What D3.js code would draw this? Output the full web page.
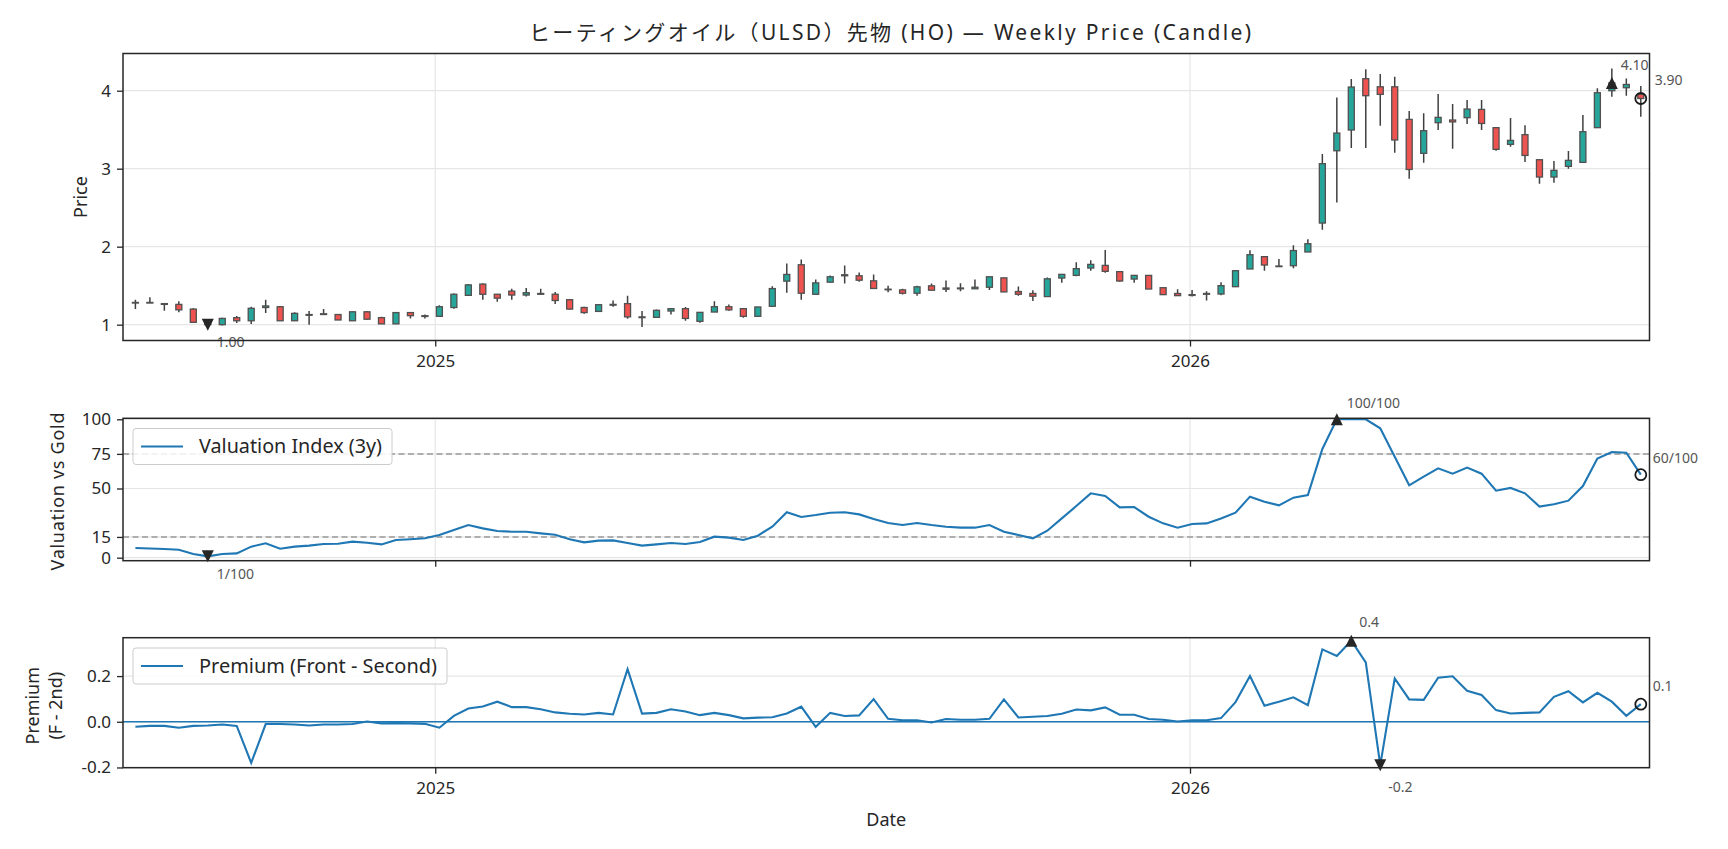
<!DOCTYPE html>
<html>
<head>
<meta charset="utf-8">
<script src="https://cdn.jsdelivr.net/npm/d3@7"></script>
<style>
  body { margin: 0; background: #fff; }
  text { font-family: "Noto Sans", "Noto Sans CJK JP", sans-serif; }
</style>
</head>
<body>
<div id="chart"></div>
<script>
// weekly dates (Fridays)
const dates = [
  "2024-08-09","2024-08-16","2024-08-23","2024-08-30","2024-09-06","2024-09-13","2024-09-20","2024-09-27",
  "2024-10-04","2024-10-11","2024-10-18","2024-10-25","2024-11-01","2024-11-08","2024-11-15","2024-11-22",
  "2024-11-29","2024-12-06","2024-12-13","2024-12-20","2024-12-27",
  "2025-01-03","2025-01-10","2025-01-17","2025-01-24","2025-01-31","2025-02-07","2025-02-14","2025-02-21",
  "2025-02-28","2025-03-07","2025-03-14","2025-03-21","2025-03-28","2025-04-04","2025-04-11","2025-04-18",
  "2025-04-25","2025-05-02","2025-05-09","2025-05-16","2025-05-23","2025-05-30","2025-06-06","2025-06-13",
  "2025-06-20","2025-06-27","2025-07-04","2025-07-11","2025-07-18","2025-07-25","2025-08-01","2025-08-08",
  "2025-08-15","2025-08-22","2025-08-29","2025-09-05","2025-09-12","2025-09-19","2025-09-26","2025-10-03",
  "2025-10-10","2025-10-17","2025-10-24","2025-10-31","2025-11-07","2025-11-14","2025-11-21","2025-11-28",
  "2025-12-05","2025-12-12","2025-12-19","2025-12-26",
  "2026-01-02","2026-01-09","2026-01-16","2026-01-23","2026-01-30","2026-02-06","2026-02-13","2026-02-20",
  "2026-02-27","2026-03-06","2026-03-13","2026-03-20","2026-03-27","2026-04-03","2026-04-10","2026-04-17",
  "2026-04-24","2026-05-01","2026-05-08","2026-05-15","2026-05-22","2026-05-29","2026-06-05","2026-06-12",
  "2026-06-19","2026-06-26","2026-07-03","2026-07-10","2026-07-17","2026-07-24","2026-07-31","2026-08-07"
];

const open = [
  1.28,1.28,1.27,1.26,1.20,1.03,1.00,1.09,1.05,1.22,1.23,1.05,1.12,1.13,1.13,1.05,1.165,1.09,1.01,1.155,1.115,
  1.107,1.22,1.376,1.52,1.39,1.43,1.38,1.39,1.39,1.32,1.22,1.17,1.25,1.27,1.10,1.094,1.175,1.205,1.043,1.162,
  1.23,1.205,1.107,1.236,1.558,1.768,1.39,1.545,1.627,1.627,1.562,1.455,1.446,1.403,1.498,1.455,1.46,1.46,
  1.48,1.60,1.425,1.40,1.36,1.598,1.632,1.726,1.76,1.68,1.585,1.632,1.474,1.40,
  1.385,1.39,1.393,1.487,1.714,1.872,1.752,1.756,1.932,2.303,3.23,3.496,4.154,4.05,4.05,3.632,3.197,3.59,
  3.624,3.654,3.76,3.526,3.312,3.436,3.115,2.893,3.03,3.081,3.526,4.0,4.038,3.953
];
const high = [
  1.32,1.35,1.275,1.30,1.21,1.04,1.09,1.11,1.23,1.32,1.24,1.16,1.175,1.20,1.13,1.17,1.175,1.10,1.16,1.16,1.13,
  1.25,1.40,1.52,1.53,1.39,1.46,1.47,1.46,1.42,1.33,1.23,1.265,1.31,1.37,1.175,1.196,1.21,1.226,1.158,1.30,
  1.26,1.205,1.227,1.494,1.785,1.837,1.58,1.63,1.76,1.67,1.644,1.50,1.46,1.50,1.528,1.566,1.53,1.58,
  1.614,1.60,1.49,1.44,1.605,1.645,1.80,1.825,1.957,1.68,1.632,1.632,1.474,1.453,
  1.444,1.427,1.543,1.70,1.953,1.872,1.842,2.017,2.094,3.188,3.914,4.15,4.274,4.214,4.18,3.74,3.71,3.957,
  3.829,3.88,3.88,3.526,3.65,3.556,3.115,3.098,3.226,3.688,4.03,4.286,4.158,4.06
];
const low = [
  1.20,1.28,1.18,1.16,1.03,0.99,0.99,1.02,1.01,1.15,1.05,1.05,1.00,1.13,1.06,1.05,1.065,1.01,1.01,1.08,1.08,
  1.107,1.205,1.376,1.32,1.295,1.32,1.36,1.38,1.265,1.19,1.14,1.17,1.23,1.077,0.97,1.094,1.13,1.05,1.026,1.162,
  1.18,1.09,1.107,1.227,1.408,1.318,1.382,1.536,1.528,1.55,1.46,1.416,1.386,1.37,1.442,1.42,1.43,1.46,
  1.446,1.42,1.37,1.305,1.36,1.538,1.62,1.69,1.667,1.55,1.538,1.457,1.385,1.372,
  1.36,1.31,1.376,1.487,1.714,1.692,1.744,1.722,1.932,2.218,2.568,3.265,3.265,3.55,3.205,2.87,3.077,3.496,
  3.256,3.573,3.496,3.23,3.282,3.085,2.808,2.82,3.0,3.081,3.526,3.923,3.936,3.667
];
const close = [
  1.285,1.285,1.26,1.19,1.03,1.00,1.08,1.05,1.21,1.24,1.05,1.145,1.13,1.14,1.06,1.165,1.07,1.01,1.155,1.115,1.105,
  1.23,1.39,1.51,1.39,1.34,1.38,1.41,1.40,1.31,1.20,1.155,1.256,1.26,1.10,1.09,1.184,1.205,1.08,1.158,1.23,
  1.19,1.107,1.227,1.463,1.644,1.403,1.536,1.614,1.64,1.57,1.464,1.45,1.403,1.485,1.442,1.47,1.47,1.48,
  1.614,1.42,1.39,1.365,1.588,1.645,1.718,1.773,1.684,1.56,1.632,1.457,1.385,1.372,
  1.375,1.40,1.50,1.692,1.897,1.765,1.744,1.95,2.038,3.064,3.457,4.047,3.936,3.953,3.368,2.99,3.487,3.658,
  3.60,3.765,3.58,3.248,3.363,3.17,2.893,2.979,3.107,3.474,3.974,4.10,4.08,3.90
];

// valuation index (0-100)
const valuation = [
  7.0,6.6,6.3,5.8,2.7,1.0,2.7,3.1,8.0,10.4,6.5,8.0,8.7,9.9,10.1,11.6,10.8,9.6,12.8,13.3,14.0,
  16.4,20.0,23.6,21.2,19.3,18.8,18.8,17.6,16.6,13.3,11.1,12.3,12.5,10.6,8.7,9.6,10.6,9.9,11.4,15.2,
  14.5,12.8,15.9,22.4,32.8,29.4,30.8,32.5,32.8,31.3,28.0,25.1,23.6,25.1,23.6,22.4,21.7,21.7,
  23.6,18.8,16.4,14.0,19.5,28.4,37.3,46.5,44.6,36.4,36.6,29.6,24.8,21.7,
  24.3,24.8,28.4,32.5,44.1,40.5,37.8,43.4,45.3,78.6,100,100,100,93.5,73.0,52.3,58.6,64.6,
  60.7,65.1,60.7,48.4,50.4,46.5,36.9,38.6,41.2,51.8,71.6,76.4,75.9,60.0
];

// front - second month premium
const premium = [
  -0.022,-0.018,-0.018,-0.026,-0.018,-0.016,-0.012,-0.018,-0.18,-0.01,-0.01,-0.012,-0.016,-0.012,-0.012,-0.01,0.001,-0.007,-0.006,-0.007,-0.009,
  -0.026,0.026,0.058,0.067,0.088,0.064,0.064,0.055,0.041,0.035,0.032,0.039,0.032,0.23,0.036,0.039,0.055,0.045,0.029,0.039,
  0.029,0.015,0.018,0.02,0.036,0.066,-0.022,0.039,0.025,0.028,0.099,0.013,0.007,0.007,-0.003,0.012,0.009,0.009,
  0.013,0.098,0.019,0.022,0.025,0.035,0.054,0.05,0.063,0.031,0.031,0.012,0.009,0.001,
  0.007,0.007,0.016,0.086,0.20,0.07,0.088,0.107,0.073,0.317,0.288,0.355,0.26,-0.19,0.19,0.098,0.096,0.193,
  0.199,0.136,0.117,0.051,0.036,0.039,0.041,0.109,0.134,0.085,0.127,0.088,0.026,0.077
];

const priceTicks = [1, 2, 3, 4];
const valTicks = [0, 15, 50, 75, 100];
const valBands = [15, 75];
const premTicks = [-0.2, 0.0, 0.2];
const yearTicks = ["2025-01-01", "2026-01-01"];

const W = 1728, H = 849;
const X0 = 123, X1 = 1649.5;
const FONT = "\"Noto Sans\", \"Noto Sans CJK JP\", sans-serif";
const BLUE = "#1f77b4";
const INK = "#262626";
const TICK_FS = 17;

const svg = d3.select("#chart").append("svg")
  .attr("width", W).attr("height", H)
  .style("background", "#fff");

const parse = d3.utcParse("%Y-%m-%d");
const D = dates.map(parse);
const years = yearTicks.map(parse);
const n = D.length;

const x = d3.scaleUtc()
  .domain([d3.utcDay.offset(D[0], -6), d3.utcHour.offset(D[n - 1], 101)])
  .range([X0, X1]);

const minus = s => s.replace("\u2212", "-");

function makePanel(top, bottom, domain, ticks, fmt, showYears) {
  const y = d3.scaleLinear().domain(domain).range([bottom, top]);
  const g = svg.append("g");
  // grid
  g.append("g").selectAll("line").data(ticks).join("line")
    .attr("x1", X0).attr("x2", X1)
    .attr("y1", d => y(d)).attr("y2", d => y(d))
    .attr("stroke", "#e6e6e6").attr("stroke-width", 1.2);
  g.append("g").selectAll("line").data(years).join("line")
    .attr("x1", d => x(d)).attr("x2", d => x(d))
    .attr("y1", top).attr("y2", bottom)
    .attr("stroke", "#e6e6e6").attr("stroke-width", 1.2);
  const clipId = "clip" + Math.round(top);
  svg.append("clipPath").attr("id", clipId).append("rect")
    .attr("x", X0).attr("y", top).attr("width", X1 - X0).attr("height", bottom - top);
  const plot = g.append("g").attr("clip-path", `url(#${clipId})`);
  const over = g.append("g");

  // y axis
  const ya = g.append("g").attr("transform", `translate(${X0},0)`)
    .call(d3.axisLeft(y).tickValues(ticks).tickSize(6).tickPadding(6).tickFormat(d => minus(fmt(d))));
  ya.select(".domain").remove();
  ya.selectAll("line").attr("stroke", INK).attr("stroke-width", 1.3);
  ya.selectAll("text").attr("font-size", TICK_FS).attr("font-family", FONT).attr("fill", INK);

  // x axis
  const xa = g.append("g").attr("transform", `translate(0,${bottom})`)
    .call(d3.axisBottom(x).tickValues(years).tickSize(6).tickPadding(8)
      .tickFormat(showYears ? d3.utcFormat("%Y") : () => ""));
  xa.select(".domain").remove();
  xa.selectAll("line").attr("stroke", INK).attr("stroke-width", 1.3);
  xa.selectAll("text").attr("font-size", TICK_FS).attr("font-family", FONT).attr("fill", INK);

  return { y, g, plot, over, top, bottom };
}

function frame(p) {
  p.g.append("rect").attr("x", X0).attr("y", p.top)
    .attr("width", X1 - X0).attr("height", p.bottom - p.top)
    .attr("fill", "none").attr("stroke", INK).attr("stroke-width", 1.5);
}

function tri(size, up) {
  const h = size / 2;
  return up ? `M0,${-h}L${h},${h}L${-h},${h}Z` : `M0,${h}L${h},${-h}L${-h},${-h}Z`;
}

function note(p, xv, yv, txt, dx, dy) {
  p.over.append("text")
    .attr("x", xv + dx).attr("y", yv + dy).attr("dy", "0.35em")
    .attr("font-size", 14).attr("fill", "#555")
    .text(txt);
}

function markers(p, vals, fmtNote, offs) {
  const y = p.y;
  const iMax = d3.maxIndex(vals), iMin = d3.minIndex(vals), iLast = n - 1;
  p.over.append("path").attr("d", tri(12, true))
    .attr("transform", `translate(${x(D[iMax])},${y(vals[iMax])})`).attr("fill", "#262626");
  p.over.append("path").attr("d", tri(12, false))
    .attr("transform", `translate(${x(D[iMin])},${y(vals[iMin])})`).attr("fill", "#262626");
  p.over.append("circle").attr("cx", x(D[iLast])).attr("cy", y(vals[iLast])).attr("r", 5.5)
    .attr("fill", "none").attr("stroke", "#1a1a1a").attr("stroke-width", 1.8);
  note(p, x(D[iMax]), y(vals[iMax]), fmtNote(vals[iMax]), offs.max[0], offs.max[1]);
  note(p, x(D[iMin]), y(vals[iMin]), fmtNote(vals[iMin]), offs.min[0], offs.min[1]);
  note(p, x(D[iLast]), y(vals[iLast]), fmtNote(vals[iLast]), offs.last[0], offs.last[1]);
}

function legend(p, top, label, len) {
  const lg = p.over.append("g");
  lg.append("rect").attr("x", 133).attr("y", top).attr("height", 36).attr("rx", 3)
    .attr("width", 199 + len + 10 - 133)
    .attr("fill", "#fff").attr("fill-opacity", 0.85).attr("stroke", "#cccccc").attr("stroke-width", 1);
  lg.append("line").attr("x1", 141).attr("x2", 183).attr("y1", top + 18).attr("y2", top + 18)
    .attr("stroke", BLUE).attr("stroke-width", 2.2);
  lg.append("text").attr("x", 199).attr("y", top + 18).attr("dy", "0.35em")
    .attr("font-size", 19).attr("fill", INK)
    .attr("textLength", len).attr("lengthAdjust", "spacingAndGlyphs")
    .text(label);
}

// ---- price panel ----
const pp = makePanel(53.5, 340.5, [0.797, 4.477], priceTicks, d3.format("d"), true);
const idx = d3.range(n);
const bw = 6;
pp.plot.selectAll("line.wick").data(idx).join("line").attr("class", "wick")
  .attr("x1", i => x(D[i])).attr("x2", i => x(D[i]))
  .attr("y1", i => pp.y(high[i])).attr("y2", i => pp.y(low[i]))
  .attr("stroke", "#404040").attr("stroke-width", 1.5);
pp.plot.selectAll("rect.body").data(idx).join("rect").attr("class", "body")
  .attr("x", i => x(D[i]) - bw / 2)
  .attr("y", i => pp.y(Math.max(open[i], close[i])))
  .attr("width", bw)
  .attr("height", i => Math.max(0.6, Math.abs(pp.y(open[i]) - pp.y(close[i]))))
  .attr("fill", i => close[i] >= open[i] ? "#26a69a" : "#ef5350")
  .attr("stroke", "#505050").attr("stroke-width", 1.3);
markers(pp, close, d3.format(".2f"), { max: [9, -18], min: [9, 17], last: [14, -18] });
frame(pp);

// ---- valuation panel ----
const vp = makePanel(418.3, 560.7, [-2.17, 100.72], valTicks, d3.format("d"), false);
vp.plot.selectAll("line.band").data(valBands).join("line").attr("class", "band")
  .attr("x1", X0).attr("x2", X1)
  .attr("y1", d => vp.y(d)).attr("y2", d => vp.y(d))
  .attr("stroke", "#999").attr("stroke-width", 1.5).attr("stroke-dasharray", "6,3.5");
vp.plot.append("path").datum(idx)
  .attr("d", d3.line().x(i => x(D[i])).y(i => vp.y(valuation[i])))
  .attr("fill", "none").attr("stroke", BLUE).attr("stroke-width", 2.1);
markers(vp, valuation, v => Math.round(v) + "/100", { max: [10, -16], min: [9, 18], last: [12, -17] });
legend(vp, 428.5, "Valuation Index (3y)", 183);
frame(vp);

// ---- premium panel ----
const qp = makePanel(637.7, 767.7, [-0.201, 0.368], premTicks, d3.format(".1f"), true);
qp.plot.append("line").attr("x1", X0).attr("x2", X1)
  .attr("y1", qp.y(0)).attr("y2", qp.y(0))
  .attr("stroke", BLUE).attr("stroke-width", 1.5);
qp.plot.append("path").datum(idx)
  .attr("d", d3.line().x(i => x(D[i])).y(i => qp.y(premium[i])))
  .attr("fill", "none").attr("stroke", BLUE).attr("stroke-width", 2.1);
markers(qp, premium, v => minus(d3.format(".1f")(v)), { max: [8, -19], min: [8, 22], last: [12, -18] });
legend(qp, 648, "Premium (Front - Second)", 238);
frame(qp);

// ---- texts ----
svg.append("text").attr("x", 890).attr("y", 33).attr("dy", "0.35em")
  .attr("text-anchor", "middle").attr("font-size", 21).attr("fill", INK)
  .attr("textLength", 722).attr("lengthAdjust", "spacing")
  .text("ヒーティングオイル（ULSD）先物 (HO) — Weekly Price (Candle)");

function ylab(xc, yc, lines, len) {
  const t = svg.append("text").attr("transform", `translate(${xc},${yc}) rotate(-90)`)
    .attr("text-anchor", "middle").attr("font-size", 18).attr("fill", INK);
  lines.forEach((s, k) => {
    const ts = t.append("tspan").attr("x", 0).attr("y", (k - (lines.length - 1) / 2) * 23).attr("dy", "0.35em").text(s);
    if (len) ts.attr("textLength", len).attr("lengthAdjust", "spacing");
  });
}
ylab(81, (53.5 + 340.5) / 2, ["Price"]);
ylab(57.5, (418.3 + 560.7) / 2 + 2, ["Valuation vs Gold"], 158);
ylab(44, (637.7 + 767.7) / 2 + 3, ["Premium", "(F - 2nd)"]);

svg.append("text").attr("x", (X0 + X1) / 2).attr("y", 820).attr("dy", "0.35em")
  .attr("text-anchor", "middle").attr("font-size", 18).attr("fill", INK).text("Date");
</script>
</body>
</html>
